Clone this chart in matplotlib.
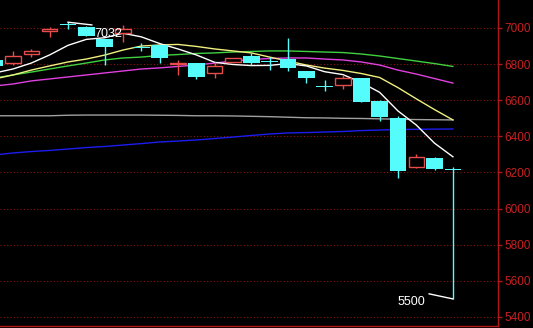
import numpy as np
import matplotlib
matplotlib.use("Agg")
from matplotlib import pyplot as plt

## K线数据
opens  = [6825, 6805, 6858, 6983, 7018, 7007, 6937, 6970, 6893, 6906, 6802, 6804, 6749,
          6813, 6845, 6814, 6827, 6762, 6677, 6684, 6721, 6597, 6500, 6232, 6278, 6220]
highs  = [6832, 6873, 6882, 7004, 7032, 7010, 6940, 7017, 6917, 6908, 6823, 6806, 6813,
          6836, 6861, 6841, 6943, 6764, 6712, 6740, 6723, 6599, 6512, 6302, 6287, 6232]
lows   = [6785, 6795, 6841, 6952, 6993, 6955, 6795, 6922, 6875, 6808, 6740, 6716, 6721,
          6810, 6795, 6767, 6763, 6694, 6653, 6660, 6590, 6486, 6167, 6224, 6215, 5500]
closes = [6790, 6847, 6873, 6994, 7016, 6956, 6893, 6997, 6891, 6832, 6806, 6730, 6789,
          6832, 6804, 6812, 6780, 6721, 6675, 6721, 6592, 6509, 6210, 6284, 6217, 6216]

## 均线
ma_white  = [6751, 6773, 6806, 6851, 6904, 6937, 6946, 6971, 6951, 6914, 6884, 6851, 6810,
             6798, 6792, 6793, 6803, 6790, 6758, 6742, 6698, 6644, 6541, 6463, 6362, 6287]
ma_yellow = [6718, 6740, 6767, 6790, 6812, 6828, 6850, 6878, 6900, 6906, 6909, 6898, 6884,
             6873, 6862, 6839, 6817, 6795, 6778, 6765, 6748, 6726, 6670, 6608, 6548, 6491]
ma_green  = [6723, 6740, 6756, 6773, 6790, 6806, 6823, 6834, 6839, 6848, 6853, 6859, 6862,
             6867, 6870, 6873, 6873, 6870, 6867, 6864, 6856, 6845, 6831, 6817, 6803, 6787]
ma_purple = [6679, 6690, 6707, 6718, 6729, 6740, 6751, 6762, 6773, 6779, 6787, 6795, 6806,
             6817, 6826, 6831, 6834, 6834, 6828, 6823, 6812, 6795, 6767, 6745, 6720, 6695]
ma_gray   = [6514, 6514, 6514, 6514, 6517, 6518, 6518, 6518, 6518, 6517, 6516, 6514, 6514,
             6513, 6511, 6509, 6506, 6503, 6502, 6500, 6499, 6497, 6495, 6493, 6492, 6491]
ma_blue   = [6297, 6308, 6316, 6322, 6330, 6338, 6344, 6352, 6360, 6369, 6374, 6380, 6388,
             6396, 6405, 6413, 6419, 6421, 6424, 6427, 6432, 6435, 6438, 6439, 6440, 6441]

price_ticks = [5400, 5600, 5800, 6000, 6200, 6400, 6600, 6800, 7000]

RED = "#e84c4c"
CYAN = "#54fcfc"
AXIS_RED = "#b01818"

fig = plt.figure(figsize=(5.33, 3.28), dpi=100, facecolor="black")
ax = fig.add_axes([0, 2 / 328, 498 / 533, 326 / 328], facecolor="black")

x = np.arange(len(closes))
o = np.array(opens)
c = np.array(closes)
h = np.array(highs)
l = np.array(lows)

## 网格线
for p in price_ticks:
    ax.axhline(p, color="#8a1414", lw=0.8, ls=(0, (1, 2)), zorder=1)

## 均线
ax.plot(x, ma_blue, color="#1c1cf0", lw=1, zorder=2)
ax.plot(x, ma_gray, color="#a0a0a0", lw=1, zorder=2)
ax.plot(x, ma_purple, color="#e040e0", lw=1, zorder=2)
ax.plot(x, ma_green, color="#40d040", lw=1, zorder=2)
ax.plot(x, ma_yellow, color="#f0f080", lw=1, zorder=2)
ax.plot(x, ma_white, color="#ffffff", lw=1, zorder=2)

## K线
up = c >= o
w = 0.9
ax.vlines(x[up], l[up], h[up], color=RED, lw=1, zorder=3)
ax.bar(x[up], np.maximum(c[up] - o[up], 3), bottom=o[up], width=w - 0.06,
       facecolor="black", edgecolor=RED, lw=1, zorder=4)
dn = ~up
ax.vlines(x[dn], l[dn], h[dn], color=CYAN, lw=1, zorder=3)
ax.bar(x[dn], np.maximum(o[dn] - c[dn], 4), bottom=c[dn], width=w,
       facecolor=CYAN, edgecolor="none", lw=0, zorder=4)

## 最高/最低标注
i_hi = int(np.argmax(h))
ax.plot([i_hi, 5.3], [h[i_hi], 7017], color="white", lw=1, zorder=5)
ax.text(5.45, 6967, "%d" % h[i_hi], color="white", fontsize=9,
        family="Liberation Sans", va="center", ha="left", zorder=6)
i_lo = int(np.argmin(l))
ax.plot([i_lo, i_lo - 1.3], [l[i_lo], 5528], color="white", lw=1, zorder=5)
ax.text(i_lo - 1.5, 5483, "%d" % l[i_lo], color="white", fontsize=9,
        family="Liberation Sans", va="center", ha="right", zorder=6)

ax.set_xlim(0.29, 27.46)
ax.set_ylim(5350, 7155)

for s in ["left", "top"]:
    ax.spines[s].set_visible(False)
ax.spines["right"].set_color(AXIS_RED)
ax.spines["bottom"].set_color(AXIS_RED)
ax.spines["right"].set_linewidth(1)
ax.spines["bottom"].set_linewidth(1)

ax.yaxis.tick_right()
ax.set_yticks(price_ticks)
ax.set_yticklabels([str(p) for p in price_ticks], family="Liberation Sans",
                   fontsize=8.5, color="#c82020")
ax.tick_params(axis="y", colors=AXIS_RED, length=3, width=1, pad=1.5, labelcolor="#c82020")
ax.set_xticks([])

fig.savefig("out.png", dpi=100, facecolor="black")
